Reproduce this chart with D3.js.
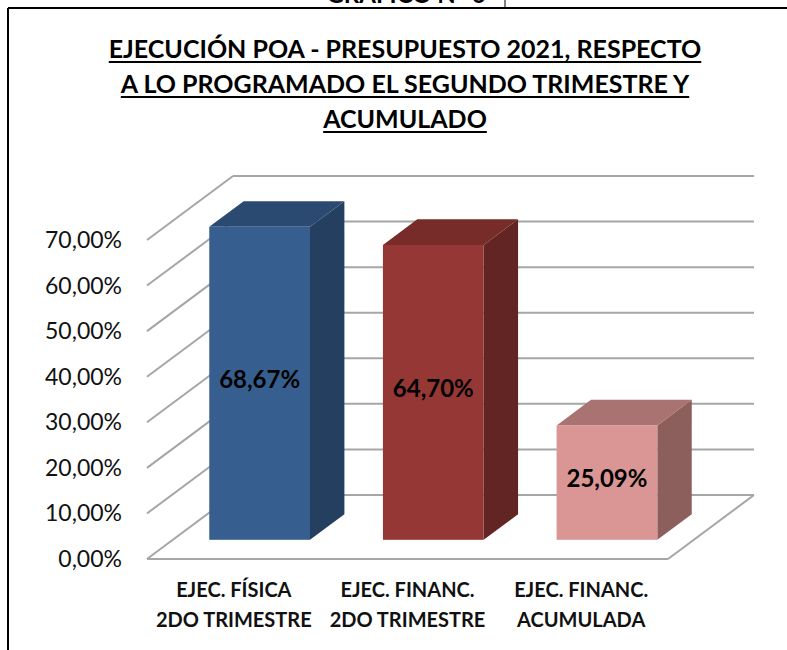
<!DOCTYPE html>
<html>
<head>
<meta charset="utf-8">
<style>
  body { margin: 0; background: #fff; }
  text { font-family: Lato, "Open Sans", sans-serif; }
  .grid line { stroke: #a6a6a6; stroke-width: 2; }
</style>
</head>
<body>
<svg id="chart" width="787" height="650"></svg>
<script src="https://cdn.jsdelivr.net/npm/d3@7"></script>
<script>
  // data
  let categories = ["EJEC. FÍSICA|2DO TRIMESTRE", "EJEC. FINANC.|2DO TRIMESTRE", "EJEC. FINANC.|ACUMULADA"]
  let values = [68.67, 64.70, 25.09]
  let ticks = [0, 10, 20, 30, 40, 50, 60, 70]
  let titleLines = ["EJECUCIÓN POA - PRESUPUESTO 2021, RESPECTO", "A LO PROGRAMADO EL SEGUNDO TRIMESTRE Y", "ACUMULADO"]
  let frontColors = ["#365f8f", "#953735", "#d99694"]
  let topColors = ["#2b4a72", "#772c2a", "#a87371"]
  let sideColors = ["#243f60", "#632523", "#8c5e5c"]

  let svg = d3.select("#chart")
  let fmt = d3.formatLocale({ decimal: ",", thousands: ".", grouping: [3], currency: ["", ""] }).format(".2f")
  let pct = v => fmt(v) + "%"

  // frame and heading above it (cut off at the top, as in the source)
  svg.append("text").attr("x", 406).attr("y", 3).attr("text-anchor", "middle")
    .attr("font-weight", "bold").attr("font-size", 24).text("GRAFICO N° 6")
  svg.append("line").attr("x1", 8).attr("x2", 787).attr("y1", 8).attr("y2", 8).attr("stroke", "#000").attr("stroke-width", 2)
  svg.append("line").attr("x1", 8).attr("x2", 8).attr("y1", 8).attr("y2", 650).attr("stroke", "#000").attr("stroke-width", 2)
  svg.append("line").attr("x1", 505).attr("x2", 505).attr("y1", 0).attr("y2", 8).attr("stroke", "#000").attr("stroke-width", 1)

  // title
  titleLines.forEach((t, i) => {
    let y = 58 + i * 35
    let txt = svg.append("text").attr("x", 405).attr("y", y).attr("text-anchor", "middle")
      .attr("font-weight", "bold").attr("font-size", 25).text(t)
    let w = txt.node().getComputedTextLength()
    svg.append("line").attr("x1", 405 - w / 2).attr("x2", 405 + w / 2)
      .attr("y1", y + 4).attr("y2", y + 4).attr("stroke", "#000").attr("stroke-width", 2.2)
  })

  // 3d projection: front plane + depth offset
  let depthX = 86, depthY = -64
  let y = d3.scaleLinear().domain([0, 70]).range([559, 240])
  let x = d3.scaleBand().domain(categories).range([147, 668]).paddingInner(0.42).paddingOuter(0.21)
  let xLabel = d3.scaleBand().domain(categories).range([147, 668])

  // gridlines: side wall + back wall
  let grid = svg.append("g").attr("class", "grid")
  ticks.forEach(t => {
    grid.append("line").attr("x1", 147).attr("y1", y(t)).attr("x2", 147 + depthX).attr("y2", y(t) + depthY)
    grid.append("line").attr("x1", 147 + depthX).attr("y1", y(t) + depthY).attr("x2", 668 + depthX).attr("y2", y(t) + depthY)
  })
  // floor
  grid.append("line").attr("x1", 147).attr("y1", y(0)).attr("x2", 668).attr("y2", y(0))
  grid.append("line").attr("x1", 668).attr("y1", y(0)).attr("x2", 668 + depthX).attr("y2", y(0) + depthY)

  // y tick labels
  svg.append("g").selectAll("text").data(ticks).join("text")
    .attr("x", 122).attr("y", d => y(d)).attr("dy", "0.35em")
    .attr("text-anchor", "end").attr("font-size", 23).attr("fill", "#111")
    .text(d => pct(d))

  // bars
  let z0 = 0.3, zd = 0.4
  let bdx = depthX * zd, bdy = depthY * zd
  let bars = svg.append("g").selectAll("g").data(values).join("g")
  let geo = (d, i) => {
    let x0 = x(categories[i]) + depthX * z0
    let x1 = x0 + x.bandwidth()
    let yb = y(0) + depthY * z0
    let yt = y(d) + depthY * z0
    return { x0, x1, yb, yt }
  }
  bars.append("polygon").attr("fill", (d, i) => sideColors[i])
    .attr("points", (d, i) => {
      let g = geo(d, i)
      return [[g.x1, g.yb], [g.x1, g.yt], [g.x1 + bdx, g.yt + bdy], [g.x1 + bdx, g.yb + bdy]].join(" ")
    })
  bars.append("polygon").attr("fill", (d, i) => topColors[i])
    .attr("points", (d, i) => {
      let g = geo(d, i)
      return [[g.x0, g.yt], [g.x1, g.yt], [g.x1 + bdx, g.yt + bdy], [g.x0 + bdx, g.yt + bdy]].join(" ")
    })
  bars.append("rect").attr("fill", (d, i) => frontColors[i])
    .attr("x", (d, i) => geo(d, i).x0).attr("y", (d, i) => geo(d, i).yt)
    .attr("width", x.bandwidth()).attr("height", (d, i) => geo(d, i).yb - geo(d, i).yt)

  // value labels
  bars.append("text")
    .attr("x", (d, i) => (geo(d, i).x0 + geo(d, i).x1) / 2)
    .attr("y", (d, i) => (geo(d, i).yt + geo(d, i).yb) / 2 - 4)
    .attr("dy", "0.35em").attr("text-anchor", "middle")
    .attr("font-weight", "bold").attr("font-size", 24).attr("fill", "#000")
    .text(d => pct(d))

  // category labels
  let cat = svg.append("g").selectAll("text").data(categories).join("text")
    .attr("x", d => xLabel(d) + xLabel.bandwidth() / 2)
    .attr("y", 597).attr("text-anchor", "middle")
    .attr("font-weight", "bold").attr("font-size", 20).attr("fill", "#111")
  cat.selectAll("tspan").data(d => d.split("|")).join("tspan")
    .attr("x", function () { return this.parentNode.getAttribute("x") })
    .attr("dy", (d, i) => i ? 30 : 0)
    .text(d => d)
</script>
</body>
</html>
